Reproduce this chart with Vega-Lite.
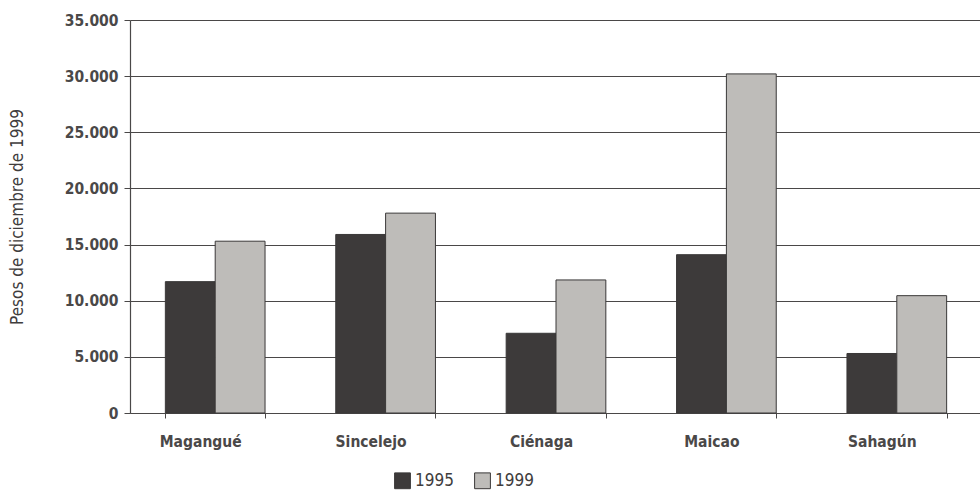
{
  "$schema": "https://vega.github.io/schema/vega-lite/v6.json",
  "width": 852,
  "height": 393,
  "autosize": {"type": "none"},
  "padding": {"left": 130, "top": 20, "right": 0, "bottom": 80},
  "background": "#ffffff",
  "data": {
    "values": [
      {"ciudad": "Magangué", "año": "1995", "valor": 11700},
      {"ciudad": "Magangué", "año": "1999", "valor": 15300},
      {"ciudad": "Sincelejo", "año": "1995", "valor": 15900},
      {"ciudad": "Sincelejo", "año": "1999", "valor": 17800},
      {"ciudad": "Ciénaga", "año": "1995", "valor": 7100},
      {"ciudad": "Ciénaga", "año": "1999", "valor": 11850},
      {"ciudad": "Maicao", "año": "1995", "valor": 14100},
      {"ciudad": "Maicao", "año": "1999", "valor": 30200},
      {"ciudad": "Sahagún", "año": "1995", "valor": 5300},
      {"ciudad": "Sahagún", "año": "1999", "valor": 10450}
    ]
  },
  "config": {
    "view": {"stroke": null},
    "font": "'DejaVu Sans Condensed', 'DejaVu Sans', sans-serif"
  },
  "mark": {"type": "bar", "stroke": "#3a3838", "strokeWidth": 1},
  "encoding": {
    "x": {
      "field": "ciudad",
      "type": "nominal",
      "sort": ["Magangué", "Sincelejo", "Ciénaga", "Maicao", "Sahagún"],
      "scale": {"paddingInner": 0.415, "paddingOuter": 0.2075},
      "axis": {
        "title": null,
        "labelAngle": 0,
        "labelFont": "'DejaVu Sans Condensed', 'DejaVu Sans', sans-serif",
        "labelFontWeight": "bold",
        "labelFontSize": 15.5,
        "labelColor": "#4a4848",
        "labelPadding": 16,
        "labelOffset": -15,
        "tickBand": "extent",
        "tickSize": 5,
        "tickColor": "#4a4848",
        "domainColor": "#4a4848",
        "domainWidth": 1.2
      }
    },
    "xOffset": {
      "field": "año",
      "type": "nominal",
      "scale": {"paddingInner": 0, "paddingOuter": 0}
    },
    "y": {
      "field": "valor",
      "type": "quantitative",
      "scale": {"domain": [0, 35000], "nice": false},
      "axis": {
        "title": "Pesos de diciembre de 1999",
        "titleFont": "'DejaVu Sans Condensed', 'DejaVu Sans', sans-serif",
        "titleFontWeight": "normal",
        "titleFontSize": 17,
        "titleColor": "#3f3d3d",
        "titlePadding": 38,
        "values": [0, 5000, 10000, 15000, 20000, 25000, 30000, 35000],
        "labelExpr": "replace(format(datum.value, ','), ',', '.')",
        "labelFont": "'DejaVu Sans Condensed', 'DejaVu Sans', sans-serif",
        "labelFontWeight": "bold",
        "labelFontSize": 15.5,
        "labelColor": "#4a4848",
        "labelPadding": 6,
        "tickSize": 6,
        "tickColor": "#4a4848",
        "domainColor": "#4a4848",
        "domainWidth": 1.2,
        "grid": true,
        "gridColor": "#4a4848",
        "gridWidth": 1.2
      }
    },
    "color": {
      "field": "año",
      "type": "nominal",
      "scale": {"domain": ["1995", "1999"], "range": ["#3d3a3a", "#bebcb9"]},
      "legend": {
        "title": null,
        "orient": "none",
        "legendX": 264,
        "legendY": 452,
        "direction": "horizontal",
        "symbolType": "square",
        "symbolSize": 250,
        "symbolStrokeColor": "#3a3838",
        "symbolStrokeWidth": 1,
        "labelFont": "'DejaVu Sans Condensed', 'DejaVu Sans', sans-serif",
        "labelFontSize": 17,
        "labelColor": "#3f3d3d",
        "columnPadding": 18,
        "labelOffset": 4
      }
    }
  }
}
